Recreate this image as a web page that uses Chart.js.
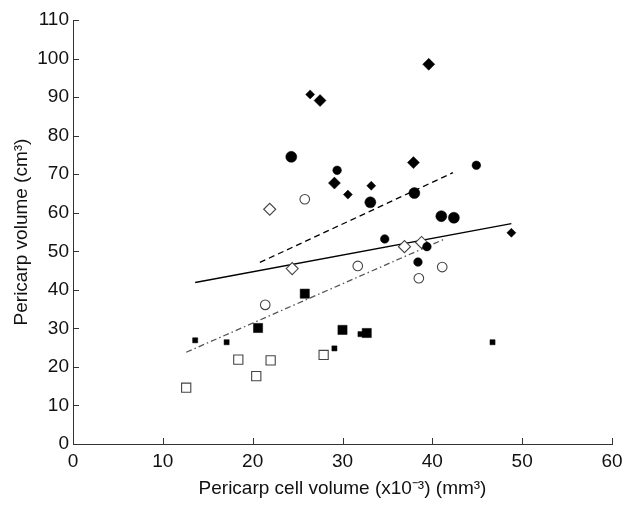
<!DOCTYPE html>
<html><head><meta charset="utf-8">
<script src="https://cdn.jsdelivr.net/npm/chart.js@4"></script>
<style>html,body{margin:0;padding:0;background:#fff}#wrap{width:627px;height:506px}</style>
</head><body><div id="wrap"><canvas id="c" width="627" height="506"></canvas></div>
<script>
const xTicks = [0, 10, 20, 30, 40, 50, 60];
const yTicks = [0, 10, 20, 30, 40, 50, 60, 70, 80, 90, 100, 110];

const bigDiamondX = [27.5, 39.6, 29.1, 37.9];
const bigDiamondY = [89.1, 98.5, 67.7, 73.0];
const smallDiamondX = [26.4, 30.6, 33.2, 48.8];
const smallDiamondY = [90.7, 64.7, 67.0, 54.8];
const bigCircleX = [24.3, 33.1, 38.0, 41.0, 42.4];
const bigCircleY = [74.5, 62.7, 65.1, 59.1, 58.7];
const smallCircleX = [29.4, 44.9, 34.7, 39.4, 38.4];
const smallCircleY = [71.0, 72.3, 53.2, 51.2, 47.2];
const openDiamondX = [21.9, 24.4, 36.9, 38.8];
const openDiamondY = [60.9, 45.5, 51.2, 52.3];
const openCircleX = [25.8, 21.4, 31.7, 38.5, 41.1];
const openCircleY = [63.5, 36.1, 46.2, 43.0, 45.9];
const bigSquareX = [25.8, 20.6, 30.0, 32.7];
const bigSquareY = [39.0, 30.1, 29.6, 28.8];
const smallSquareX = [13.6, 17.1, 29.1, 46.7, 32.0];
const smallSquareY = [26.9, 26.4, 24.8, 26.4, 28.5];
const openSquareX = [12.6, 18.4, 20.4, 22.0, 27.9];
const openSquareY = [14.6, 21.9, 17.6, 21.7, 23.1];

const dashedX = [20.8, 42.3], dashedY = [47.1, 70.4];
const solidX = [13.6, 48.8], solidY = [41.9, 57.2];
const dashDotX = [12.6, 41.2], dashDotY = [23.8, 53.0];

const pts = (xs, ys) => xs.map((x, i) => ({x, y: ys[i]}));

function markers(xs, ys, style, r, filled) {
  return {
    data: pts(xs, ys), showLine: false, pointStyle: style, pointRadius: r, pointHoverRadius: r,
    pointBackgroundColor: filled ? '#000' : '#fff',
    pointBorderColor: filled ? '#000' : '#444',
    pointBorderWidth: filled ? 0.5 : 1.1, order: 1
  };
}
function line(xs, ys, dash, color) {
  return {data: pts(xs, ys), showLine: true, pointRadius: 0, borderColor: color, borderWidth: 1.3,
    borderDash: dash, fill: false, order: 10};
}

const tickPlugin = {
  id: 'innerTicks',
  afterDraw(chart) {
    const ctx = chart.ctx, xs = chart.scales.x, ys = chart.scales.y, a = chart.chartArea;
    ctx.save(); ctx.strokeStyle = '#333'; ctx.lineWidth = 1;
    xs.ticks.forEach((t, i) => { const p = Math.round(xs.getPixelForTick(i)) + 0.5;
      ctx.beginPath(); ctx.moveTo(p, a.bottom); ctx.lineTo(p, a.bottom - 6); ctx.stroke(); });
    ys.ticks.forEach((t, i) => { const p = Math.round(ys.getPixelForTick(i)) + 0.5;
      ctx.beginPath(); ctx.moveTo(a.left, p); ctx.lineTo(a.left + 6, p); ctx.stroke(); });
    ctx.restore();
  }
};

const font = {family: "'Liberation Sans', Arial, sans-serif", size: 19};
new Chart(document.getElementById('c'), {
  type: 'scatter',
  data: {datasets: [
    markers(bigDiamondX, bigDiamondY, 'rectRot', 6, true),
    markers(smallDiamondX, smallDiamondY, 'rectRot', 4.5, true),
    markers(bigCircleX, bigCircleY, 'circle', 5.5, true),
    markers(smallCircleX, smallCircleY, 'circle', 4.3, true),
    markers(openDiamondX, openDiamondY, 'rectRot', 6, false),
    markers(openCircleX, openCircleY, 'circle', 4.8, false),
    markers(bigSquareX, bigSquareY, 'rect', 6.5, true),
    markers(smallSquareX, smallSquareY, 'rect', 3.6, true),
    markers(openSquareX, openSquareY, 'rect', 6.5, false),
    line(dashedX, dashedY, [6, 4], '#000'),
    line(solidX, solidY, [], '#000'),
    line(dashDotX, dashDotY, [6, 3, 1.5, 3], '#555')
  ]},
  options: {
    responsive: false, animation: false, devicePixelRatio: 1,
    layout: {padding: {top: 20, right: 15, left: 6, bottom: 2}},
    plugins: {legend: {display: false}, tooltip: {enabled: false}},
    scales: {
      x: {type: 'linear', min: 0, max: 60,
        afterBuildTicks: s => { s.ticks = xTicks.map(v => ({value: v})); },
        afterFit: s => { s.height = 60; s.paddingRight = 0; s.paddingLeft = 0; },
        grid: {display: true, drawOnChartArea: false, drawTicks: false},
        border: {display: true, color: '#333', width: 1},
        ticks: {color: '#111', font, padding: 6, maxRotation: 0},
        title: {display: true, text: 'Pericarp cell volume (x10\u207B\u00B3) (mm\u00B3)', color: '#111', font, padding: {top: 2}}
      },
      y: {type: 'linear', min: 0, max: 110,
        afterBuildTicks: s => { s.ticks = yTicks.map(v => ({value: v})); },
        afterFit: s => { s.width = 67; },
        grid: {display: true, drawOnChartArea: false, drawTicks: false},
        border: {display: true, color: '#333', width: 1},
        ticks: {color: '#111', font, padding: 4},
        title: {display: true, text: 'Pericarp volume (cm\u00B3)', color: '#111', font, padding: {bottom: 2}}
      }
    }
  },
  plugins: [tickPlugin]
});
</script></body></html>
